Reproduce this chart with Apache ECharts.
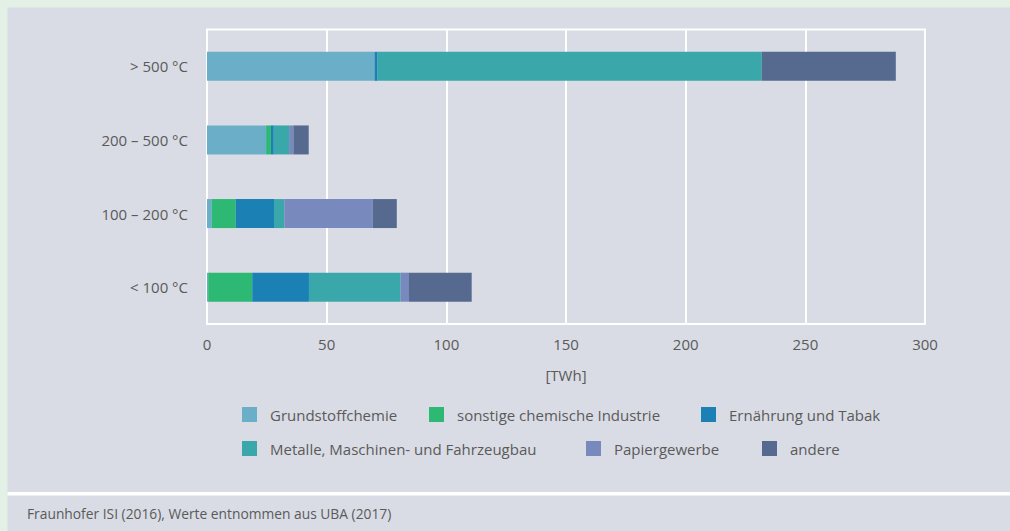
<!DOCTYPE html>
<html>
<head>
<meta charset="utf-8">
<script src="https://cdn.jsdelivr.net/npm/echarts@6/dist/echarts.min.js"></script>
<style>
html,body{margin:0;padding:0;background:#e2f0e6;}
#chart{width:1010px;height:531px;}
</style>
</head>
<body>
<div id="chart"></div>
<script>
// Categories (bottom to top on the y axis)
const categories = ['< 100 °C', '100 – 200 °C', '200 – 500 °C', '> 500 °C'];
// Series values [TWh]
const grundstoffchemie = [0.5, 2, 24.7, 70];
const sonstigeChemie   = [18.4, 10, 2, 0];
const ernaehrung       = [23.7, 16, 1.2, 1.3];
const metalle          = [38.3, 4.3, 6.4, 160.5];
const papier           = [3.5, 37, 1.8, 0];
const andere           = [26.2, 10, 6.4, 56];
const xTicks = [0, 50, 100, 150, 200, 250, 300];

const seriesNames = ['Grundstoffchemie', 'sonstige chemische Industrie', 'Ernährung und Tabak',
  'Metalle, Maschinen- und Fahrzeugbau', 'Papiergewerbe', 'andere'];
const seriesData = [grundstoffchemie, sonstigeChemie, ernaehrung, metalle, papier, andere];
const colors = ['#6aafc7', '#2db873', '#1b80b4', '#3aa8ab', '#7889bd', '#566a90'];

const FONT = '"Open Sans", "DejaVu Sans", sans-serif';
const TXT = '#5a5a5a';

const legendPos = [
  [242, 407], [429, 407], [701, 407],
  [242, 441], [586, 441], [762, 441]
];

const chart = echarts.init(document.getElementById('chart'), null, {renderer: 'svg'});
chart.setOption({
  backgroundColor: '#e2f0e6',
  animation: false,
  textStyle: {fontFamily: FONT},
  graphic: [
    {type: 'rect', z: -10, silent: true, shape: {x: 7.5, y: 7.5, width: 1010, height: 530}, style: {fill: '#d9dce4'}},
    {type: 'rect', z: -9, silent: true, shape: {x: 7.5, y: 492, width: 1010, height: 3.5}, style: {fill: '#ffffff'}},
    {type: 'text', left: 27, top: 506, style: {text: 'Fraunhofer ISI (2016), Werte entnommen aus UBA (2017)', fill: TXT, font: '13.8px ' + FONT}}
  ],
  grid: {left: 207, right: 85, top: 29.5, bottom: 207, show: true, borderColor: '#ffffff', borderWidth: 2, backgroundColor: 'transparent', containLabel: false},
  legend: seriesNames.map((n, i) => ({
    data: [n], left: legendPos[i][0], top: legendPos[i][1], padding: 0,
    itemWidth: 15, itemHeight: 15, icon: 'rect', selectedMode: false,
    textStyle: {color: TXT, fontSize: 15, fontFamily: FONT, padding: [0, 0, 0, 8]}
  })),
  xAxis: {
    type: 'value', min: 0, max: 300, interval: 50,
    name: '[TWh]', nameLocation: 'middle', nameGap: 43,
    nameTextStyle: {color: TXT, fontSize: 15, fontFamily: FONT},
    axisLine: {show: false}, axisTick: {show: false},
    axisLabel: {color: TXT, fontSize: 15, fontFamily: FONT, margin: 12,
      formatter: v => xTicks.includes(v) ? String(v) : ''},
    splitLine: {show: true, lineStyle: {color: '#ffffff', width: 2}}
  },
  yAxis: {
    type: 'category', data: categories,
    axisLine: {show: false}, axisTick: {show: false},
    axisLabel: {color: TXT, fontSize: 15, fontFamily: FONT, margin: 19},
    splitLine: {show: false}
  },
  series: seriesNames.map((n, i) => ({
    name: n, type: 'bar', stack: 'total', barWidth: 29,
    itemStyle: {color: colors[i]},
    data: seriesData[i]
  }))
});
</script>
</body>
</html>
